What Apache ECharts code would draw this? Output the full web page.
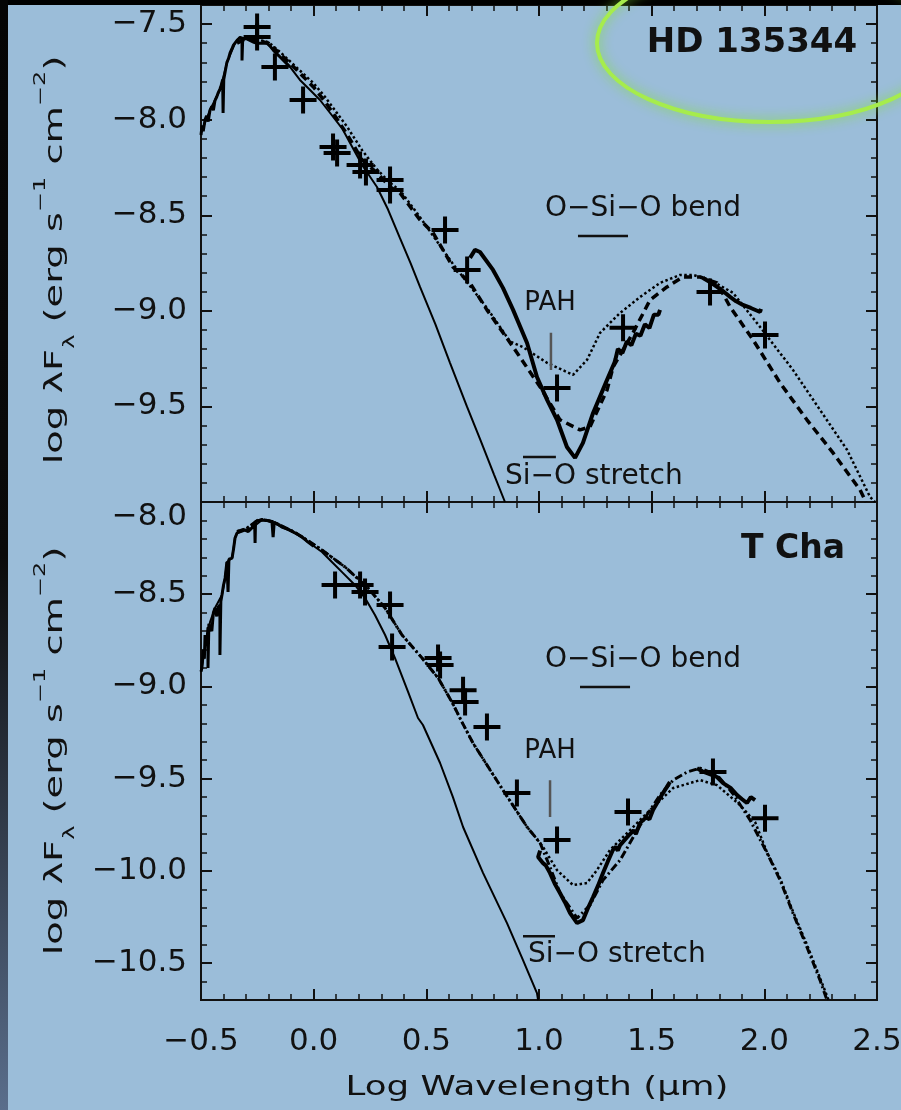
<!DOCTYPE html>
<html><head><meta charset="utf-8">
<script src="https://cdn.jsdelivr.net/npm/echarts@6/dist/echarts.min.js"></script>
<style>html,body{margin:0;padding:0;background:#9bbdd9}#c{width:901px;height:1110px}</style>
</head><body><div id="c"></div>
<script>
// ================= DATA =================
const xTicks = [-0.5, 0, 0.5, 1, 1.5, 2, 2.5];
const yTicksTop = [-9.5, -9, -8.5, -8, -7.5];
const yTicksBot = [-10.5, -10, -9.5, -9, -8.5, -8];

// ---- HD 135344 (top panel) ----
const hdPhotosphere = [[-0.5,-8.069],[-0.46,-7.949],[-0.416,-7.845],[-0.385,-7.703],[-0.349,-7.599],[-0.327,-7.567],[-0.283,-7.583],[-0.251,-7.599],[-0.207,-7.599],[-0.149,-7.672],[-0.105,-7.724],[-0.061,-7.792],[-0.016,-7.845],[0.028,-7.897],[0.073,-7.965],[0.126,-8.045],[0.170,-8.14],[0.215,-8.237],[0.281,-8.352],[0.330,-8.47],[0.383,-8.62],[0.430,-8.75],[0.472,-8.875],[0.540,-9.07],[0.605,-9.272],[0.680,-9.50],[0.738,-9.670],[0.800,-9.855],[0.849,-10.0]];
const hdOptical = [[-0.500,-8.08],[-0.495,-8.03],[-0.490,-8.06],[-0.482,-8.00],[-0.475,-7.98],[-0.468,-8.01],[-0.460,-7.95],[-0.452,-7.93],[-0.445,-7.95],[-0.438,-7.90],[-0.430,-7.88],[-0.424,-7.86],[-0.416,-7.84],[-0.410,-7.82],[-0.404,-7.79],[-0.402,-7.965],[-0.399,-7.79],[-0.393,-7.75],[-0.385,-7.70],[-0.378,-7.68],[-0.371,-7.65],[-0.363,-7.63],[-0.356,-7.61],[-0.349,-7.60],[-0.340,-7.585],[-0.327,-7.57],[-0.318,-7.58],[-0.318,-7.69],[-0.315,-7.58],[-0.300,-7.575],[-0.283,-7.585],[-0.265,-7.595],[-0.251,-7.60],[-0.230,-7.60],[-0.207,-7.60],[-0.190,-7.62],[-0.180,-7.635],[-0.160,-7.66],[-0.149,-7.672],[-0.125,-7.70],[-0.105,-7.724]];
const hdModelDashed = [[-0.34,-7.60],[-0.30,-7.575],[-0.25,-7.585],[-0.20,-7.60],[-0.15,-7.655],[-0.10,-7.71],[-0.05,-7.77],[0.0,-7.83],[0.05,-7.905],[0.10,-7.99],[0.15,-8.08],[0.215,-8.21],[0.281,-8.279],[0.339,-8.352],[0.383,-8.383],[0.472,-8.524],[0.530,-8.592],[0.618,-8.770],[0.694,-8.854],[0.769,-8.995],[0.885,-9.189],[1.005,-9.398],[1.093,-9.570],[1.182,-9.623],[1.226,-9.607],[1.302,-9.414],[1.329,-9.293],[1.417,-9.115],[1.493,-8.943],[1.568,-8.875],[1.639,-8.823],[1.715,-8.823],[1.790,-8.854],[1.848,-8.979],[1.950,-9.152],[2.070,-9.377],[2.189,-9.570],[2.305,-9.743],[2.425,-9.937],[2.451,-10.0]];
const hdModelDotted = [[-0.34,-7.59],[-0.30,-7.57],[-0.25,-7.58],[-0.20,-7.595],[-0.15,-7.645],[-0.10,-7.70],[-0.05,-7.755],[0.0,-7.81],[0.05,-7.88],[0.10,-7.96],[0.15,-8.04],[0.215,-8.16],[0.281,-8.26],[0.339,-8.33],[0.383,-8.37],[0.472,-8.51],[0.618,-8.755],[0.769,-8.985],[0.871,-9.16],[0.929,-9.19],[1.036,-9.272],[1.151,-9.335],[1.213,-9.257],[1.271,-9.115],[1.360,-9.011],[1.449,-8.927],[1.537,-8.854],[1.626,-8.812],[1.684,-8.812],[1.759,-8.838],[1.861,-8.906],[1.981,-9.084],[2.127,-9.309],[2.247,-9.518],[2.367,-9.727],[2.469,-9.973],[2.491,-10.0]];
const hdIRS = [[0.694,-8.723],[0.716,-8.681],[0.738,-8.692],[0.796,-8.786],[0.840,-8.88],[0.885,-8.995],[0.947,-9.168],[0.991,-9.346],[1.036,-9.466],[1.080,-9.570],[1.124,-9.712],[1.160,-9.769],[1.195,-9.691],[1.240,-9.534],[1.302,-9.361],[1.335,-9.27],[1.34,-9.25],[1.35,-9.20],[1.37,-9.22],[1.39,-9.16],[1.41,-9.18],[1.43,-9.12],[1.45,-9.13],[1.47,-9.07],[1.49,-9.09],[1.51,-9.02],[1.53,-9.02],[1.537,-8.995]];
const hdMIPS = [[1.728,-8.828],[1.760,-8.85],[1.790,-8.875],[1.820,-8.90],[1.848,-8.927],[1.875,-8.95],[1.905,-8.969],[1.940,-8.985],[1.981,-9.006],[1.985,-8.99]];
const hdPhotometry = [[-0.251,-7.515],[-0.251,-7.567],[-0.172,-7.724],[-0.047,-7.897],[0.086,-8.143],[0.104,-8.174],[0.206,-8.237],[0.232,-8.273],[0.339,-8.315],[0.339,-8.368],[0.583,-8.577],[0.681,-8.786],[1.080,-9.403],[1.373,-9.089],[1.759,-8.901],[2.003,-9.126]];

// ---- T Cha (bottom panel) ----
const tcPhotosphere = [[-0.5,-8.92],[-0.46,-8.651],[-0.438,-8.575],[-0.407,-8.504],[-0.393,-8.412],[-0.385,-8.325],[-0.362,-8.304],[-0.349,-8.195],[-0.340,-8.168],[-0.305,-8.152],[-0.274,-8.141],[-0.229,-8.098],[-0.185,-8.108],[-0.141,-8.136],[-0.083,-8.168],[-0.025,-8.217],[0.037,-8.271],[0.081,-8.325],[0.126,-8.380],[0.183,-8.450],[0.228,-8.521],[0.272,-8.613],[0.317,-8.721],[0.361,-8.846],[0.419,-9.030],[0.463,-9.171],[0.485,-9.209],[0.561,-9.415],[0.618,-9.600],[0.663,-9.762],[0.752,-10.012],[0.858,-10.283],[0.929,-10.484],[0.991,-10.663],[0.996,-10.70]];
const tcOptical = [[-0.500,-8.92],[-0.496,-8.900],[-0.490,-8.80],[-0.485,-8.85],[-0.482,-8.721],[-0.475,-8.78],[-0.469,-8.68],[-0.469,-8.900],[-0.465,-8.66],[-0.460,-8.651],[-0.452,-8.70],[-0.445,-8.60],[-0.438,-8.575],[-0.430,-8.62],[-0.424,-8.57],[-0.416,-8.559],[-0.416,-8.830],[-0.412,-8.54],[-0.407,-8.504],[-0.400,-8.45],[-0.393,-8.412],[-0.385,-8.325],[-0.380,-8.488],[-0.376,-8.31],[-0.362,-8.304],[-0.355,-8.25],[-0.349,-8.195],[-0.340,-8.168],[-0.325,-8.16],[-0.305,-8.152],[-0.290,-8.16],[-0.274,-8.141],[-0.262,-8.11],[-0.260,-8.222],[-0.258,-8.108],[-0.245,-8.10],[-0.229,-8.098],[-0.205,-8.10],[-0.185,-8.108],[-0.180,-8.19],[-0.175,-8.11],[-0.160,-8.12],[-0.141,-8.136],[-0.110,-8.15],[-0.083,-8.168],[-0.050,-8.19],[-0.025,-8.217],[0.0,-8.24]];
const tcModelDashed = [[-0.34,-8.16],[-0.30,-8.145],[-0.25,-8.10],[-0.229,-8.095],[-0.185,-8.105],[-0.141,-8.13],[-0.083,-8.165],[-0.025,-8.21],[0.037,-8.26],[0.081,-8.30],[0.139,-8.352],[0.241,-8.466],[0.317,-8.575],[0.392,-8.721],[0.481,-8.846],[0.552,-8.954],[0.614,-9.085],[0.658,-9.193],[0.707,-9.307],[0.840,-9.562],[0.947,-9.762],[1.005,-9.849],[1.049,-9.98],[1.093,-10.120],[1.169,-10.256],[1.226,-10.186],[1.284,-10.050],[1.360,-9.941],[1.449,-9.752],[1.537,-9.589],[1.595,-9.508],[1.657,-9.464],[1.715,-9.443],[1.790,-9.480],[1.860,-9.58],[1.937,-9.725],[2.012,-9.903],[2.070,-10.050],[2.127,-10.229],[2.189,-10.413],[2.247,-10.592],[2.278,-10.70]];
const tcModelDotted = [[-0.34,-8.16],[-0.30,-8.145],[-0.25,-8.10],[-0.229,-8.095],[-0.185,-8.105],[-0.141,-8.13],[-0.083,-8.165],[-0.025,-8.21],[0.037,-8.26],[0.081,-8.30],[0.139,-8.352],[0.241,-8.466],[0.317,-8.575],[0.392,-8.721],[0.481,-8.846],[0.552,-8.954],[0.614,-9.085],[0.658,-9.193],[0.707,-9.307],[0.840,-9.562],[0.947,-9.762],[1.005,-9.849],[1.018,-9.871],[1.080,-9.996],[1.151,-10.077],[1.213,-10.066],[1.257,-9.996],[1.315,-9.887],[1.404,-9.779],[1.493,-9.670],[1.595,-9.551],[1.670,-9.524],[1.715,-9.508],[1.790,-9.535],[1.892,-9.643],[1.959,-9.735],[2.012,-9.90],[2.070,-10.04],[2.127,-10.22],[2.189,-10.40],[2.247,-10.58],[2.285,-10.70]];
const tcIRS = [[1.005,-9.89],[0.996,-9.925],[1.018,-9.958],[1.030,-9.97],[1.049,-10.012],[1.070,-10.07],[1.093,-10.120],[1.115,-10.17],[1.138,-10.229],[1.169,-10.283],[1.195,-10.267],[1.218,-10.20],[1.240,-10.142],[1.262,-10.08],[1.284,-10.012],[1.305,-9.95],[1.328,-9.887],[1.34,-9.87],[1.35,-9.89],[1.36,-9.86],[1.391,-9.817],[1.42,-9.78],[1.43,-9.80],[1.448,-9.741],[1.475,-9.71],[1.49,-9.72],[1.506,-9.670],[1.530,-9.62],[1.550,-9.578],[1.565,-9.55],[1.581,-9.518]];
const tcMIPS = [[1.701,-9.443],[1.725,-9.46],[1.746,-9.470],[1.790,-9.491],[1.817,-9.524],[1.850,-9.55],[1.879,-9.589],[1.900,-9.61],[1.923,-9.632],[1.940,-9.60],[1.959,-9.616]];
const tcPhotometry = [[0.095,-8.450],[0.206,-8.450],[0.228,-8.488],[0.339,-8.559],[0.348,-8.786],[0.552,-8.846],[0.561,-8.884],[0.663,-9.020],[0.672,-9.085],[0.769,-9.220],[0.902,-9.578],[1.080,-9.833],[1.395,-9.681],[1.772,-9.464],[2.003,-9.714]];

// ---- feature markers (log wavelength extents) ----
const hdBendBar = [[1.173,-8.608],[1.395,-8.608]];
const hdPAHTick = [[1.053,-9.115],[1.053,-9.309]];
const hdStretchBar = [[0.929,-9.764],[1.075,-9.764]];
const tcBendBar = [[1.182,-9.003],[1.404,-9.003]];
const tcPAHTick = [[1.049,-9.508],[1.049,-9.708]];
const tcStretchBar = [[0.929,-10.354],[1.071,-10.354]];

// ================= STYLE / LAYOUT =================
const FONT = 'DejaVu Sans';
const INK = '#111';
const TICKFS = 31;
function fmt(v){ return (v < -1e-9 ? '\u2212' : '') + Math.abs(v).toFixed(1); }
function minorList(min, max){ const a=[]; for(let i=Math.round(min*10); i<=Math.round(max*10); i++){ a.push(i/10); } return a; }
function xMinorList(){ const a=[]; for(let i=-5; i<=25; i++){ a.push(i/10); } return a; }

// every axis: no axis line (frame is the grid border), inward ticks only
function tickAxis(grid, pos, min, max, ticks, len, w, labelCfg){
  return {type:'value', gridIndex:grid, position:pos, min:min, max:max,
    axisLine:{show:false, onZero:false},
    axisTick:{show:true, inside:true, length:len, customValues:ticks, lineStyle:{color:'#111', width:w}},
    splitLine:{show:false}, minorTick:{show:false},
    axisLabel: labelCfg ? Object.assign({show:true, customValues:ticks, fontSize:TICKFS, fontFamily:FONT, color:INK}, labelCfg) : {show:false}
  };
}

const TOP = {min:-10.0, max:-7.4};
const BOT = {min:-10.7, max:-8.0};
const XR = {min:-0.5, max:2.5};

function lineS(data, xi, yi, width, type, z){
  return {type:'line', xAxisIndex:xi, yAxisIndex:yi, data:data, showSymbol:false, symbol:'none', z:z,
    lineStyle:{color:'#000', width:width, type:type||'solid'}, silent:true, animation:false};
}
const CROSS = 'path://M11.5,0H15.5V11.5H27V15.5H15.5V27H11.5V15.5H0V11.5H11.5Z';
function crossS(data, xi, yi){
  return {type:'scatter', xAxisIndex:xi, yAxisIndex:yi, data:data, symbol:CROSS, symbolSize:27, z:8,
    itemStyle:{color:'#000', opacity:1}, silent:true, animation:false};
}
function markS(data, xi, yi, color, width){
  return {type:'line', xAxisIndex:xi, yAxisIndex:yi, data:data, showSymbol:false, symbol:'none', z:7,
    lineStyle:{color:color, width:width}, silent:true, animation:false};
}

const chart = echarts.init(document.getElementById('c'));
const xLab = {margin:26, formatter:fmt};
const option = {
  backgroundColor:'#9bbdd9',
  animation:false,
  grid:[
    {left:201, right:24, top:5, height:497, containLabel:false, outerBoundsMode:'none', show:true, borderColor:'#111', borderWidth:2, backgroundColor:'transparent'},
    {left:201, right:24, top:502, height:498, containLabel:false, outerBoundsMode:'none', show:true, borderColor:'#111', borderWidth:2, backgroundColor:'transparent'}
  ],
  xAxis:[
    // top panel: 0 bottom major, 1 bottom minor, 2 top major, 3 top minor
    tickAxis(0,'bottom',XR.min,XR.max,xTicks,11,2),
    tickAxis(0,'bottom',XR.min,XR.max,xMinorList(),6,1.5),
    tickAxis(0,'top',XR.min,XR.max,xTicks,11,2),
    tickAxis(0,'top',XR.min,XR.max,xMinorList(),6,1.5),
    // bottom panel: 4 bottom major (labels), 5 bottom minor, 6 top major, 7 top minor
    tickAxis(1,'bottom',XR.min,XR.max,xTicks,11,2,xLab),
    tickAxis(1,'bottom',XR.min,XR.max,xMinorList(),6,1.5),
    tickAxis(1,'top',XR.min,XR.max,xTicks,11,2),
    tickAxis(1,'top',XR.min,XR.max,xMinorList(),6,1.5)
  ],
  yAxis:[
    tickAxis(0,'left',TOP.min,TOP.max,yTicksTop,11,2,{margin:14, formatter:fmt}),
    tickAxis(0,'left',TOP.min,TOP.max,minorList(TOP.min,TOP.max),6,1.5),
    tickAxis(0,'right',TOP.min,TOP.max,yTicksTop,11,2),
    tickAxis(0,'right',TOP.min,TOP.max,minorList(TOP.min,TOP.max),6,1.5),
    tickAxis(1,'left',BOT.min,BOT.max,yTicksBot,11,2,{margin:14,
      formatter:function(v){ return Math.abs(v+8)<1e-6 ? '{d|'+fmt(v)+'}' : fmt(v); },
      rich:{d:{padding:[30,0,0,0], fontSize:TICKFS, fontFamily:FONT, color:INK}}}),
    tickAxis(1,'left',BOT.min,BOT.max,minorList(BOT.min,BOT.max),6,1.5),
    tickAxis(1,'right',BOT.min,BOT.max,yTicksBot,11,2),
    tickAxis(1,'right',BOT.min,BOT.max,minorList(BOT.min,BOT.max),6,1.5)
  ],
  series:[
    lineS(hdModelDotted,0,0,2.5,[2.5,2.5],2),
    lineS(hdModelDashed,0,0,3.5,[8,5],3),
    lineS(hdPhotosphere,0,0,2,'solid',4),
    lineS(hdOptical,0,0,3,'solid',5),
    lineS(hdIRS,0,0,4,'solid',5),
    lineS(hdMIPS,0,0,4,'solid',5),
    crossS(hdPhotometry,0,0),
    markS(hdBendBar,0,0,'#111',2.5),
    markS(hdPAHTick,0,0,'#555',2.5),
    markS(hdStretchBar,0,0,'#111',2.5),

    lineS(tcModelDotted,4,4,2.5,[2.5,2.5],2),
    lineS(tcModelDashed,4,4,3,[8,3,2,3],3),
    lineS(tcPhotosphere,4,4,2,'solid',4),
    lineS(tcOptical,4,4,3,'solid',5),
    lineS(tcIRS,4,4,4,'solid',5),
    lineS(tcMIPS,4,4,4,'solid',5),
    crossS(tcPhotometry,4,4),
    markS(tcBendBar,4,4,'#111',2.5),
    markS(tcPAHTick,4,4,'#555',2.5),
    markS(tcStretchBar,4,4,'#111',2.5)
  ]
};
chart.setOption(option);

// ---- text annotations, placed through the axes ----
const annotations = [
  {txt:'O\u2212Si\u2212O bend', at:[1.027,-8.467], f:{xAxisIndex:0,yAxisIndex:0}, align:'left', size:28, weight:'normal'},
  {txt:'PAH', at:[1.049,-8.959], f:{xAxisIndex:0,yAxisIndex:0}, align:'center', size:26, weight:'normal'},
  {txt:'Si\u2212O stretch', at:[0.849,-9.869], f:{xAxisIndex:0,yAxisIndex:0}, align:'left', size:28, weight:'normal'},
  {txt:'HD 135344', at:[2.412,-7.599], f:{xAxisIndex:0,yAxisIndex:0}, align:'right', size:34, weight:'bold'},
  {txt:'O\u2212Si\u2212O bend', at:[1.027,-8.857], f:{xAxisIndex:4,yAxisIndex:4}, align:'left', size:28, weight:'normal'},
  {txt:'PAH', at:[1.049,-9.350], f:{xAxisIndex:4,yAxisIndex:4}, align:'center', size:26, weight:'normal'},
  {txt:'Si\u2212O stretch', at:[0.951,-10.457], f:{xAxisIndex:4,yAxisIndex:4}, align:'left', size:28, weight:'normal'},
  {txt:'T Cha', at:[2.358,-8.255], f:{xAxisIndex:4,yAxisIndex:4}, align:'right', size:33, weight:'bold'}
];
const gfx = [];
annotations.forEach(function(a){
  const p = chart.convertToPixel(a.f, a.at);
  gfx.push({type:'text', x:p[0], y:p[1], z:20, style:{text:a.txt, fontSize:a.size, fontFamily:FONT, fontWeight:a.weight, fill:INK, align:a.align, verticalAlign:'middle'}});
});

const yTitle = '{n|log \u03bbF}{s|\u03bb}{n| (erg s}{p|\u22121}{n| cm}{p|\u22122}{n|)}';
const yTitleRich = {
  n:{fontSize:24, fontFamily:FONT, fill:INK, lineHeight:44},
  s:{fontSize:15, fontFamily:FONT, fill:INK, lineHeight:24, verticalAlign:'bottom'},
  p:{fontSize:15, fontFamily:FONT, fill:INK, lineHeight:15, verticalAlign:'top'}
};
gfx.push({type:'text', x:56, y:260, rotation:Math.PI/2, scaleX:1.6, z:20,
  style:{text:yTitle, rich:yTitleRich, align:'center', verticalAlign:'middle', fill:INK, fontFamily:FONT, fontSize:24}});
gfx.push({type:'text', x:56, y:751, rotation:Math.PI/2, scaleX:1.6, z:20,
  style:{text:yTitle, rich:yTitleRich, align:'center', verticalAlign:'middle', fill:INK, fontFamily:FONT, fontSize:24}});
gfx.push({type:'text', x:537, y:1088, scaleX:1.32, z:20,
  style:{text:'Log Wavelength (\u03bcm)', fontSize:27, fontFamily:FONT, fill:INK, align:'center', verticalAlign:'middle'}});

// frame decorations of the slide
gfx.push({type:'rect', z:30, shape:{x:0,y:0,width:901,height:5}, style:{fill:'#000'}});
gfx.push({type:'rect', z:30, shape:{x:0,y:0,width:8,height:1110},
  style:{fill:new echarts.graphic.LinearGradient(0,0,0,1,[{offset:0,color:'#050505'},{offset:0.5,color:'#0a0a0a'},{offset:1,color:'#5a6e8c'}])}});
gfx.push({type:'ellipse', z:40, shape:{cx:770, cy:43, rx:173, ry:79},
  style:{fill:'none', stroke:'#a6ec4c', lineWidth:4, shadowBlur:12, shadowColor:'rgba(130,225,50,0.95)'}});

chart.setOption({graphic:gfx});
</script>
</body></html>
